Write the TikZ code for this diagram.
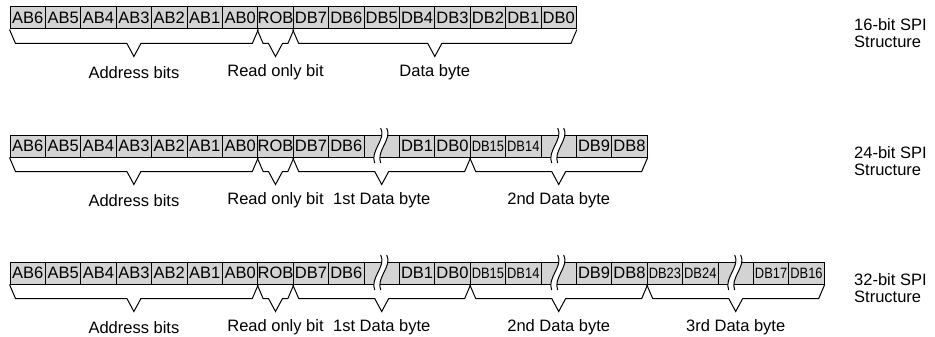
\documentclass[tikz,border=0pt]{standalone}
\usepackage{fontspec}
\setmainfont{Liberation Sans}
\usetikzlibrary{calc}
\definecolor{cellgray}{RGB}{211,211,211}

\tikzset{
  bit/.style={draw, fill=cellgray, line width=1pt, minimum width=35.4pt, minimum height=22pt, inner sep=0pt, font=\fontsize{16.5}{18}\selectfont},
  smallbit/.style={bit, font=\fontsize{15}{16}\selectfont\addfontfeature{FakeStretch=0.86}},
  bracket/.style={line width=1pt, line join=miter},
  caption/.style={inner sep=0pt, font=\fontsize{16.5}{18}\selectfont},
  title/.style={caption, align=left, anchor=north west, font=\fontsize{16.5}{17}\selectfont}
}

\newcommand{\spibrace}[4]{%
  \coordinate (#4) at ($(#1.south west)!0.5!(#2.south east)+(0,27)$);
  \draw[bracket] (#1.south west) -- ++(6,14) -- ($(#4)+(-7,-13)$) -- (#4)
     -- ($(#4)+(7,-13)$) -- ($(#2.south east)+(-6,14)$) -- (#2.south east);
  \node[caption] (#4-lbl) at ($(#4)+(0,16)$) {#3};}

\newcommand{\cutmark}[1]{%
  \begin{scope}[shift={(#1.center)}]
    \fill[white] (-1,-18) .. controls (5,-7) and (-12,5) .. (-7,17) -- (-1,17)
       .. controls (-6,5) and (11,-7) .. (5,-18) -- cycle;
    \draw[line width=1pt] (-1,-18) .. controls (5,-7) and (-12,5) .. (-7,17);
    \draw[line width=1pt] (5,-18) .. controls (11,-7) and (-6,5) .. (-1,17);
  \end{scope}}

\begin{document}
\begin{tikzpicture}[x=1pt, y=-1pt]
\useasboundingbox (0,0) rectangle (935,337);

\foreach \s/\t [count=\i from 0] in {bit/AB6,bit/AB5,bit/AB4,bit/AB3,bit/AB2,bit/AB1,bit/AB0,bit/ROB,
    bit/DB7,bit/DB6,bit/DB5,bit/DB4,bit/DB3,bit/DB2,bit/DB1,bit/DB0}
  \node[\s] (a\i) at (27.7+35.4*\i, 18) {\t};

\foreach \s/\t [count=\i from 0] in {bit/AB6,bit/AB5,bit/AB4,bit/AB3,bit/AB2,bit/AB1,bit/AB0,bit/ROB,
    bit/DB7,bit/DB6,bit/{},bit/DB1,bit/DB0,smallbit/DB15,smallbit/DB14,bit/{},bit/DB9,bit/DB8}
  \node[\s] (b\i) at (27.7+35.4*\i, 146) {\t};

\foreach \s/\t [count=\i from 0] in {bit/AB6,bit/AB5,bit/AB4,bit/AB3,bit/AB2,bit/AB1,bit/AB0,bit/ROB,
    bit/DB7,bit/DB6,bit/{},bit/DB1,bit/DB0,smallbit/DB15,smallbit/DB14,bit/{},bit/DB9,bit/DB8,
    smallbit/DB23,smallbit/DB24,bit/{},smallbit/DB17,smallbit/DB16}
  \node[\s] (c\i) at (27.7+35.4*\i, 273) {\t};

\cutmark{b10} \cutmark{b15}
\cutmark{c10} \cutmark{c15} \cutmark{c20}

\spibrace{a0}{a6}{Address bits}{a-addr}
\spibrace{a7}{a7}{Read only bit}{a-rob}
\spibrace{a8}{a15}{Data byte}{a-data}

\spibrace{b0}{b6}{Address bits}{b-addr}
\spibrace{b7}{b7}{Read only bit}{b-rob}
\spibrace{b8}{b12}{1st Data byte}{b-first}
\spibrace{b13}{b17}{2nd Data byte}{b-second}

\spibrace{c0}{c6}{Address bits}{c-addr}
\spibrace{c7}{c7}{Read only bit}{c-rob}
\spibrace{c8}{c12}{1st Data byte}{c-first}
\spibrace{c13}{c17}{2nd Data byte}{c-second}
\spibrace{c18}{c22}{3rd Data byte}{c-third}

\node[title] (a-title) at (854,18) {16-bit SPI\\Structure};
\node[title] (b-title) at (854,146) {24-bit SPI\\Structure};
\node[title] (c-title) at (854,273) {32-bit SPI\\Structure};
\end{tikzpicture}
\end{document}
